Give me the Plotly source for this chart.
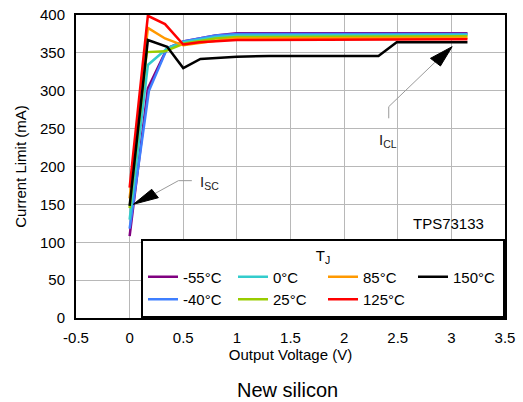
import plotly.graph_objects as go

FONT = "Liberation Sans, Arial, sans-serif"

# Junction temperatures, colours and legend order (row-major ranks)
temps = ["-55°C", "-40°C", "0°C", "25°C", "85°C", "125°C", "150°C"]
colors = ["#800080", "#3f7fff", "#33cccc", "#99cc00", "#ff9900", "#ff0000", "#000000"]
legend_ranks = [1, 5, 2, 6, 3, 7, 4]

# Axis ticks
x_ticks = [-0.5, 0, 0.5, 1, 1.5, 2, 2.5, 3, 3.5]
x_tick_text = ["-0.5", "0", "0.5", "1", "1.5", "2", "2.5", "3", "3.5"]
y_ticks = [0, 50, 100, 150, 200, 250, 300, 350, 400]

# Output voltage (V) vs current limit (mA) for each temperature
vout_m55 = [0, 0.17, 0.35, 0.5, 0.8, 1.0, 3.15]
ilim_m55 = [108, 303, 356, 365, 373, 376, 376]
vout_m40 = [0, 0.18, 0.35, 0.5, 0.8, 1.0, 3.15]
ilim_m40 = [118, 300, 356, 365, 373, 375, 375]
vout_0 = [0, 0.17, 0.35, 0.5, 0.8, 1.0, 3.15]
ilim_0 = [130, 334, 356, 364, 371, 373, 374]
vout_25 = [0, 0.16, 0.33, 0.5, 0.8, 1.0, 3.15]
ilim_25 = [145, 351, 352, 362, 369, 371, 372]
vout_85 = [0, 0.17, 0.33, 0.5, 0.8, 1.0, 3.15]
ilim_85 = [158, 383, 369, 360, 366, 369, 370]
vout_125 = [0, 0.17, 0.33, 0.5, 0.65, 1.0, 3.15]
ilim_125 = [172, 399, 388, 361, 364, 367, 368]
vout_150 = [0, 0.17, 0.35, 0.5, 0.66, 1.0, 1.3, 2.32, 2.49, 3.15]
ilim_150 = [148, 367, 358, 330, 342, 345, 346, 346, 364, 364]

vouts = [vout_m55, vout_m40, vout_0, vout_25, vout_85, vout_125, vout_150]
ilims = [ilim_m55, ilim_m40, ilim_0, ilim_25, ilim_85, ilim_125, ilim_150]

fig = go.Figure()
for name, col, xs, ys, rank in zip(temps, colors, vouts, ilims, legend_ranks):
    fig.add_trace(go.Scatter(
        x=xs, y=ys, mode="lines", name=name,
        line=dict(color=col, width=2.5),
        legendrank=rank, legendwidth=45,
    ))

grid = "#b8b8b8"
fig.update_xaxes(
    range=[-0.5, 3.5], tickvals=x_ticks, ticktext=x_tick_text,
    showgrid=True, gridcolor=grid, gridwidth=1, zeroline=False,
    showline=True, linecolor="black", linewidth=2, mirror=True,
    ticks="", ticklabelstandoff=5, automargin=False,
    tickfont=dict(family=FONT, size=15, color="black"),
    title=dict(text="Output Voltage (V)", font=dict(family=FONT, size=15, color="black"), standoff=0),
)
fig.update_yaxes(
    range=[0, 400], tickvals=y_ticks,
    showgrid=True, gridcolor=grid, gridwidth=1, zeroline=False,
    showline=True, linecolor="black", linewidth=2, mirror=True,
    ticks="", ticklabelstandoff=6, automargin=False,
    tickfont=dict(family=FONT, size=15, color="black"),
    title=dict(text="Current Limit (mA)", font=dict(family=FONT, size=15, color="black"), standoff=10),
)

# Callout connectors and arrowheads
conn = dict(color="#9a9a9a", width=1)
shapes = [
    dict(type="path", xref="x", yref="y", line=conn,
         path="M 0.237 164.4 L 0.455 181.3 L 0.580 181.3"),
    dict(type="path", xref="x", yref="y", line=dict(color="black", width=1), fillcolor="black",
         path="M 0.035 150.1 L 0.206 169.9 L 0.268 158.8 Z"),
    dict(type="path", xref="x", yref="y", line=conn,
         path="M 2.850 338 L 2.416 279 L 2.416 263.6"),
    dict(type="path", xref="x", yref="y", line=dict(color="black", width=1), fillcolor="black",
         path="M 3.007 358.2 L 2.805 342.8 L 2.898 332.7 Z"),
]

annots = [
    dict(x=0.742, y=179.5, xref="x", yref="y", text="I<sub>SC</sub>", showarrow=False,
         font=dict(family=FONT, size=15, color="#222")),
    dict(x=2.413, y=233.7, xref="x", yref="y", text="I<sub>CL</sub>", showarrow=False,
         font=dict(family=FONT, size=15, color="#222")),
    dict(x=2.973, y=125, xref="x", yref="y", text="TPS73133", showarrow=False,
         font=dict(family=FONT, size=15, color="black")),
    dict(x=0.5, y=-0.238, xref="paper", yref="paper", yanchor="middle",
         text="New silicon", showarrow=False, xshift=-3,
         font=dict(family=FONT, size=20, color="black")),
]

fig.update_layout(
    width=523, height=402,
    margin=dict(l=76, r=18, t=15, b=84),
    plot_bgcolor="white", paper_bgcolor="white",
    showlegend=True,
    legend=dict(
        orientation="h", x=1, xanchor="right", y=0, yanchor="bottom",
        bgcolor="white", bordercolor="black", borderwidth=2,
        font=dict(family=FONT, size=15, color="black"),
        title=dict(text="T<sub>J</sub>", side="top center", font=dict(family=FONT, size=15, color="black")),
        traceorder="normal", entrywidthmode="pixels", tracegroupgap=0,
    ),
    shapes=shapes,
    annotations=annots,
)

fig.write_html("out.html")
